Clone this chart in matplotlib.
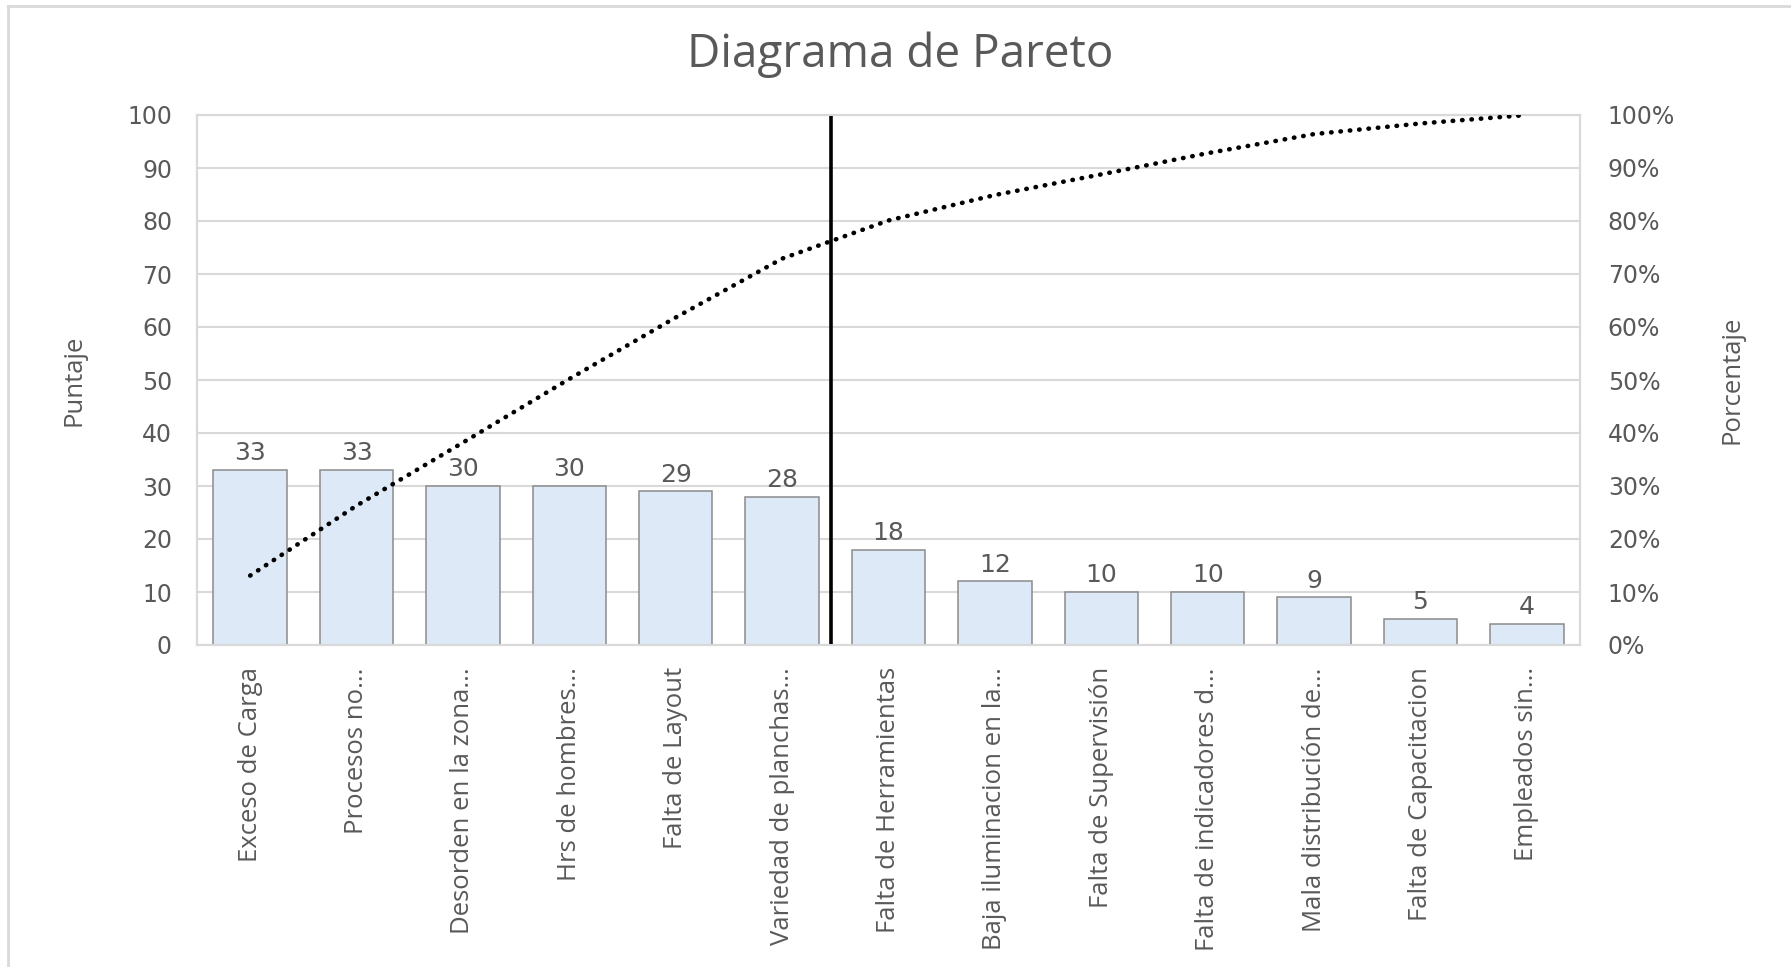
# Pareto chart (Excel style) - bars with cumulative % line
import matplotlib
matplotlib.use('Agg')
import matplotlib.pyplot as plt
from matplotlib.lines import Line2D

categorias = ['Exceso de Carga', 'Procesos no...', 'Desorden en la zona...',
              'Hrs de hombres...', 'Falta de Layout', 'Variedad de planchas...',
              'Falta de Herramientas', 'Baja iluminacion en la...', 'Falta de Supervisión',
              'Falta de indicadores d...', 'Mala distribución de...', 'Falta de Capacitacion',
              'Empleados sin...']
puntaje = [33, 33, 30, 30, 29, 28, 18, 12, 10, 10, 9, 5, 4]
porcentaje_acum = [13.1, 26.3, 38.2, 50.2, 61.8, 72.9, 80.1, 84.9, 88.8, 92.8, 96.4, 98.4, 100.0]
corte_x = 5.46  # position of the 80-20 cut line (between bar 6 and 7)

y_ticks = [0, 10, 20, 30, 40, 50, 60, 70, 80, 90, 100]
pct_ticks = [0, 10, 20, 30, 40, 50, 60, 70, 80, 90, 100]

txt = '#595959'
grid_c = '#d9d9d9'
num_font = 'DejaVu Sans'
lbl_font = 'Open Sans'

fig = plt.figure(figsize=(17.91, 9.67), dpi=100)
ax = fig.add_axes([197/1791, 1-645/967, (1580-197)/1791, (645-115)/967])
ax2 = ax.twinx()

x = list(range(len(categorias)))
ax.bar(x, puntaje, width=0.69, color='#dde9f6', edgecolor='#8c8c8c', linewidth=1.1, zorder=3)
for xi, v in zip(x, puntaje):
    ax.text(xi, v + 0.9, str(v), ha='center', va='bottom', fontsize=18, color=txt, family=num_font)

ax.axvline(corte_x, ymin=0, ymax=1.0, color='black', lw=2.6, zorder=5)

ax2.plot(x, porcentaje_acum, color='black', lw=3.3, linestyle=(0, (0.1, 1.95)),
         dash_capstyle='round', zorder=6)

ax.set_xlim(-0.5, len(categorias) - 0.5)
ax.set_ylim(0, 100)
ax2.set_ylim(0, 100)
ax.set_yticks(y_ticks)
ax2.set_yticks(pct_ticks)
ax2.set_yticklabels([f'{p}%' for p in pct_ticks])
ax.set_yticklabels([str(t) for t in y_ticks])

ax.grid(axis='y', color=grid_c, lw=1.5, zorder=0)
ax.set_axisbelow(True)
for a in (ax, ax2):
    for s in a.spines.values():
        s.set_color(grid_c)
        s.set_linewidth(1.5)
    a.tick_params(length=0, colors=txt)
ax.tick_params(axis='y', pad=18, labelsize=17)
ax2.tick_params(axis='y', pad=20, labelsize=17)
for lab in ax.get_yticklabels() + ax2.get_yticklabels():
    lab.set_family(num_font)

ax.set_xticks(x)
ax.set_xticklabels(categorias, rotation=90, fontsize=18.5, family=lbl_font, color=txt)
ax.tick_params(axis='x', pad=16)

ax.set_ylabel('Puntaje', fontsize=18.5, family=lbl_font, color=txt, labelpad=29)
ax2.set_ylabel('Porcentaje', fontsize=18.5, family=lbl_font, color=txt, labelpad=32)

fig.text(900/1791, 1-55/967, 'Diagrama de Pareto', ha='center', va='center',
         fontsize=33, family=lbl_font, color=txt)

# screenshot frame (top and left edges only)
fig.add_artist(Line2D([8/1791, 1], [1-6/967, 1-6/967], color=grid_c, lw=2, transform=fig.transFigure))
fig.add_artist(Line2D([8/1791, 8/1791], [0, 1-6/967], color=grid_c, lw=2, transform=fig.transFigure))

plt.savefig('out.png', dpi=100)
